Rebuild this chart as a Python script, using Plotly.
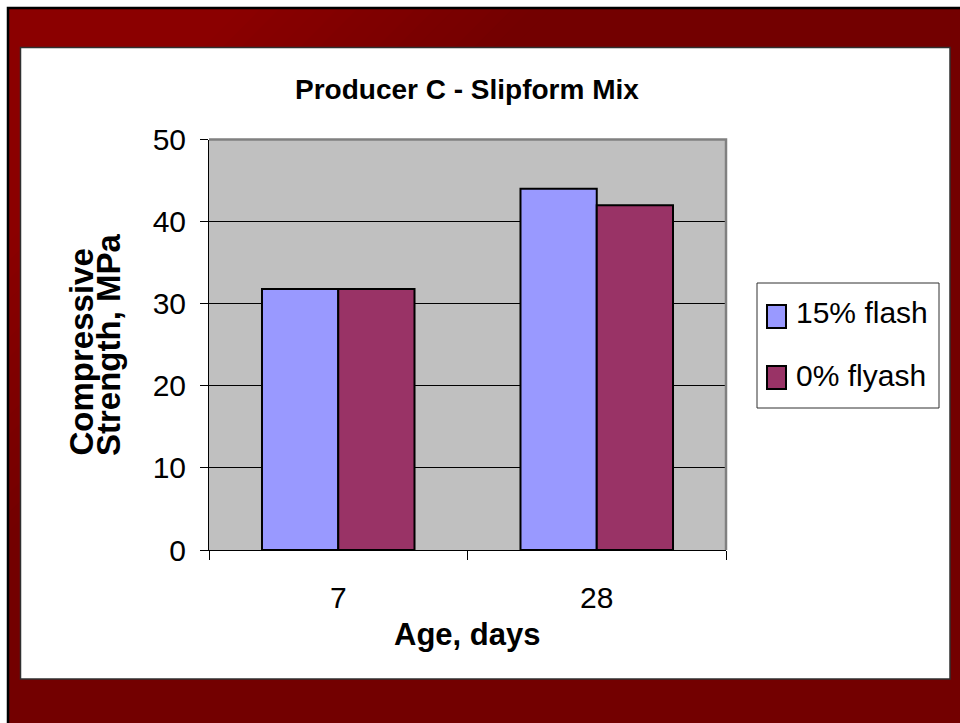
import plotly.graph_objects as go

# Figure size in pixels
W, H = 960, 723

# Data
ages = ["7", "28"]
series_names = ["15% flash", "0% flyash"]
strength_flash15 = [31.8, 44.0]
strength_flyash0 = [31.8, 42.0]
series_colors = ["#9999FF", "#993366"]
y_ticks = [0, 10, 20, 30, 40, 50]

FONT = "Liberation Sans, Arial, sans-serif"


def px(x):
    return x / W


def py(y):
    return 1 - y / H


# Plot area in pixels
PL, PR, PT, PB = 209, 726, 139.5, 550

fig = go.Figure()
for name, vals, col in zip(series_names, [strength_flash15, strength_flyash0], series_colors):
    fig.add_trace(go.Bar(
        x=ages, y=vals, name=name,
        marker=dict(color=col, line=dict(color="black", width=2)),
        showlegend=False,
    ))

shapes = []
# dark red frame
shapes.append(dict(type="rect", xref="paper", yref="paper", layer="below",
                   x0=px(8), x1=1, y0=0, y1=py(8),
                   fillcolor="#730000", line=dict(width=0)))
# diagonal shading from the top-left corner
steps = 16
s_lo, s_hi = 250, 560
for i in range(steps, -1, -1):
    s = s_lo + (s_hi - s_lo) * i / steps
    r = int(round(139 - (139 - 115) * i / steps))
    shapes.append(dict(type="path", xref="paper", yref="paper", layer="below",
                       path=f"M 0 1 L {px(s):.5f} 1 L 0 {py(s):.5f} Z",
                       fillcolor=f"rgb({r},0,0)", line=dict(width=0)))
# white outside the frame, black frame edge
shapes.append(dict(type="rect", xref="paper", yref="paper", layer="below",
                   x0=0, x1=px(7), y0=0, y1=1, fillcolor="white", line=dict(width=0)))
shapes.append(dict(type="rect", xref="paper", yref="paper", layer="below",
                   x0=0, x1=1, y0=py(7), y1=1, fillcolor="white", line=dict(width=0)))
shapes.append(dict(type="path", xref="paper", yref="paper", layer="below",
                   path=f"M {px(8):.5f} 0 L {px(8):.5f} {py(8):.5f} L 1 {py(8):.5f}",
                   line=dict(color="black", width=2.5)))
# white chart panel
shapes.append(dict(type="rect", xref="paper", yref="paper", layer="below",
                   x0=px(20.5), x1=px(950), y0=py(679), y1=py(47.5),
                   fillcolor="white", line=dict(color="#303030", width=1.5)))
# gray plot area
shapes.append(dict(type="rect", xref="x domain", yref="y domain", layer="below",
                   x0=0, x1=1, y0=0, y1=1, fillcolor="#C0C0C0", line=dict(width=0)))
# gray top/right border of plot area
shapes.append(dict(type="path", xref="paper", yref="paper", layer="above",
                   path=f"M {px(PL):.5f} {py(PT):.5f} L {px(PR):.5f} {py(PT):.5f} L {px(PR):.5f} {py(PB):.5f}",
                   line=dict(color="#808080", width=2.5)))

# legend
LX0, LX1, LY0, LY1 = 757, 939, 283, 408
shapes.append(dict(type="rect", xref="paper", yref="paper", layer="above",
                   x0=px(LX0), x1=px(LX1), y0=py(LY1), y1=py(LY0),
                   fillcolor="white", line=dict(color="#303030", width=1)))
legend_rows = [(305, 328, 312.5), (366, 389, 375.5)]
annotations = []
for (sy0, sy1, ty), name, col in zip(legend_rows, series_names, series_colors):
    shapes.append(dict(type="rect", xref="paper", yref="paper", layer="above",
                       x0=px(767), x1=px(786), y0=py(sy1), y1=py(sy0),
                       fillcolor=col, line=dict(color="black", width=2)))
    annotations.append(dict(xref="paper", yref="paper", x=px(794), y=py(ty),
                            xanchor="left", yanchor="middle", showarrow=False,
                            text=name, font=dict(family=FONT, size=30, color="black")))

# titles
annotations.append(dict(xref="paper", yref="paper", x=px(467), y=py(89),
                        xanchor="center", yanchor="middle", showarrow=False,
                        text="Producer C - Slipform Mix",
                        font=dict(family=FONT, size=28, color="black", weight="bold")))
annotations.append(dict(xref="paper", yref="paper", x=px(467), y=py(634),
                        xanchor="center", yanchor="middle", showarrow=False,
                        text="Age, days",
                        font=dict(family=FONT, size=31, color="black", weight="bold")))
for text, cx in [("Compressive", 81), ("Strength, MPa", 108)]:
    annotations.append(dict(xref="paper", yref="paper", x=px(cx), y=py(458),
                            xanchor="center", yanchor="bottom", showarrow=False,
                            textangle=-90, text=text,
                            font=dict(family=FONT, size=33, color="black", weight="bold")))

fig.update_layout(
    width=W, height=H,
    autosize=False,
    margin=dict(l=0, r=0, t=0, b=0, pad=0, autoexpand=False),
    paper_bgcolor="white",
    plot_bgcolor="rgba(0,0,0,0)",
    barmode="group", bargap=0.41, bargroupgap=0,
    showlegend=False,
    shapes=shapes,
    annotations=annotations,
    font=dict(family=FONT, color="black"),
    xaxis=dict(
        domain=[px(PL), px(PR)], type="category",
        automargin=False,
        showline=True, linecolor="black", linewidth=1,
        ticks="outside", tickson="boundaries", ticklen=9, tickcolor="black", tickwidth=1,
        tickfont=dict(family=FONT, size=30, color="black"),
        ticklabelstandoff=21,
        showgrid=False, fixedrange=True,
    ),
    yaxis=dict(
        domain=[py(PB), py(PT)], range=[0, 50],
        automargin=False,
        tickvals=y_ticks,
        showline=True, linecolor="black", linewidth=1,
        ticks="outside", ticklen=8, tickcolor="black", tickwidth=1,
        tickfont=dict(family=FONT, size=30, color="black"),
        ticklabelstandoff=8,
        showgrid=True, gridcolor="black", gridwidth=1,
        zeroline=False, fixedrange=True,
    ),
)

fig.write_html("out.html")
